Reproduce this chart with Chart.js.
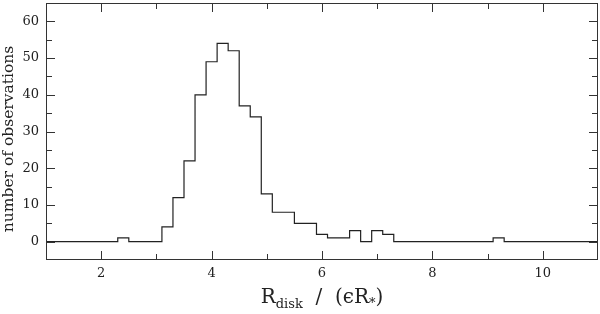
<!DOCTYPE html>
<html>
<head>
<meta charset="utf-8">
<script src="https://cdn.jsdelivr.net/npm/chart.js@4.4.0/dist/chart.umd.min.js"></script>
<style>
  html, body { margin: 0; padding: 0; background: #fff; }
  #wrap { width: 600px; height: 314px; position: relative; }
</style>
</head>
<body>
<div id="wrap"><canvas id="chart"></canvas></div>
<script>
// bin centres (width 0.2) and counts
const binCenters = [
  1.0, 1.2, 1.4, 1.6, 1.8, 2.0, 2.2, 2.4, 2.6, 2.8,
  3.0, 3.2, 3.4, 3.6, 3.8, 4.0, 4.2, 4.4, 4.6, 4.8,
  5.0, 5.2, 5.4, 5.6, 5.8, 6.0, 6.2, 6.4, 6.6, 6.8,
  7.0, 7.2, 7.4, 7.6, 7.8, 8.0, 8.2, 8.4, 8.6, 8.8,
  9.0, 9.2, 9.4, 9.6, 9.8, 10.0, 10.2, 10.4, 10.6, 10.8, 11.0
];
const counts = [
  0, 0, 0, 0, 0, 0, 0, 1, 0, 0,
  0, 4, 12, 22, 40, 49, 54, 52, 37, 34,
  13, 8, 8, 5, 5, 2, 1, 1, 3, 0,
  3, 2, 0, 0, 0, 0, 0, 0, 0, 0,
  0, 1, 0, 0, 0, 0, 0, 0, 0, 0, 0
];
const xTickLabels = [2, 4, 6, 8, 10];
const yTickLabels = [0, 10, 20, 30, 40, 50, 60];

const axisColor = '#333';
const serif = '"DejaVu Serif", "Liberation Serif", serif';

// inward ticks on all four sides, frame and axis titles
const frameTicks = {
  id: 'frameTicks',
  afterDraw(chart) {
    const { ctx, chartArea: a, scales: { x, y } } = chart;
    ctx.save();
    ctx.strokeStyle = axisColor;
    ctx.lineWidth = 1;
    ctx.strokeRect(a.left + 0.5, a.top + 0.5, a.right - a.left - 1, a.bottom - a.top - 1);
    ctx.beginPath();
    for (let v = 2; v <= 10; v++) {
      const px = Math.round(x.getPixelForValue(v)) + 0.5;
      const len = v % 2 === 0 ? 9 : 6;
      ctx.moveTo(px, a.bottom); ctx.lineTo(px, a.bottom - len);
      ctx.moveTo(px, a.top); ctx.lineTo(px, a.top + len);
    }
    for (let v = 0; v <= 60; v += 5) {
      const py = Math.round(y.getPixelForValue(v)) + 0.5;
      const len = v % 10 === 0 ? 9 : 6;
      ctx.moveTo(a.left, py); ctx.lineTo(a.left + len, py);
      ctx.moveTo(a.right, py); ctx.lineTo(a.right - len, py);
    }
    ctx.stroke();

    ctx.fillStyle = '#222';

    // y axis title
    ctx.save();
    ctx.translate(13, 139);
    ctx.rotate(-Math.PI / 2);
    ctx.font = '15.5px ' + serif;
    ctx.textAlign = 'center';
    ctx.textBaseline = 'alphabetic';
    ctx.fillText('number of observations', 0, 0);
    ctx.restore();

    // x axis title with subscript
    ctx.textBaseline = 'alphabetic';
    const big = '20px ' + serif, small = '13px ' + serif;
    const parts = [
      { t: 'R', f: big, dy: 0 },
      { t: 'disk', f: small, dy: 5 },
      { t: '  /  (\u03f5R', f: big, dy: 0 },
      { t: '*', f: small, dy: 4 },
      { t: ')', f: big, dy: 0 }
    ];
    let w = 0;
    parts.forEach(p => { ctx.font = p.f; w += ctx.measureText(p.t).width; });
    let cx = (a.left + a.right) / 2 - w / 2;
    const base = 303;
    parts.forEach(p => {
      ctx.font = p.f;
      ctx.fillText(p.t, cx, base + p.dy);
      cx += ctx.measureText(p.t).width;
    });
    ctx.restore();
  }
};

new Chart(document.getElementById('chart'), {
  type: 'line',
  data: {
    datasets: [{
      data: binCenters.map((c, i) => ({ x: c, y: counts[i] })),
      stepped: 'middle',
      borderColor: '#222',
      borderWidth: 1.2,
      pointRadius: 0,
      fill: false
    }]
  },
  options: {
    responsive: true,
    maintainAspectRatio: false,
    animation: false,
    layout: { padding: { top: 3, right: 2, left: 0, bottom: 0 } },
    plugins: { legend: { display: false }, tooltip: { enabled: false } },
    scales: {
      x: {
        type: 'linear',
        min: 1, max: 11,
        afterBuildTicks: s => { s.ticks = xTickLabels.map(v => ({ value: v })); },
        afterFit: s => { s.height = 54; s.paddingLeft = 0; s.paddingRight = 0; },
        grid: { display: false, drawTicks: false },
        border: { display: false },
        ticks: { color: '#222', font: { family: serif, size: 13 }, padding: 6, maxRotation: 0 }
      },
      y: {
        min: -5, max: 65,
        afterBuildTicks: s => { s.ticks = yTickLabels.map(v => ({ value: v })); },
        afterFit: s => { s.width = 46; s.paddingTop = 0; s.paddingBottom = 0; },
        grid: { display: false, drawTicks: false },
        border: { display: false },
        ticks: { color: '#222', font: { family: serif, size: 13 }, padding: 7 }
      }
    }
  },
  plugins: [frameTicks]
});
</script>
</body>
</html>
